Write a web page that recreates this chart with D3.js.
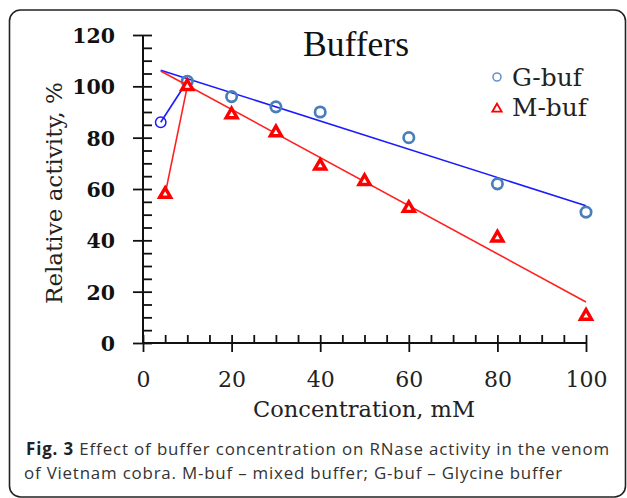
<!DOCTYPE html>
<html>
<head>
<meta charset="utf-8">
<script src="https://cdn.jsdelivr.net/npm/d3@7"></script>
<style>
  html, body { margin: 0; padding: 0; background: #fff; }
  svg { display: block; }
</style>
</head>
<body>
<script>
// ---- data ----
const gConc = [4, 10, 20, 30, 40, 60, 80, 100];
const gValues = [86, 102, 96, 92, 90, 80, 62, 51];
const mConc = [5, 10, 20, 30, 40, 50, 60, 80, 100];
const mValues = [58, 100, 89, 82, 69, 63, 52.5, 41, 10.5];
// linear trend lines (end points, data units)
const gTrendX = [4, 100];
const gTrendY = [106.3, 53.5];
const mTrendX = [4, 100];
const mTrendY = [106, 16];
const xTicks = [0, 20, 40, 60, 80, 100];
const yTicks = [0, 20, 40, 60, 80, 100, 120];
const xMinor = d3.range(0, 101, 5);
const yMinor = d3.range(0, 121, 5);
const legendLabels = ["G-buf", "M-buf"];
const titleText = "Buffers";
const xTitle = "Concentration, mM";
const yTitle = "Relative activity, %";
const captionBold = "Fig. 3";
const captionLine1 = " Effect of buffer concentration on RNase activity in the venom";
const captionLine2 = "of Vietnam cobra. M-buf \u2013 mixed buffer; G-buf \u2013 Glycine buffer";

// ---- layout ----
const W = 627, H = 498;
const svg = d3.select("body").append("svg").attr("width", W).attr("height", H);
svg.append("rect").attr("width", W).attr("height", H).attr("fill", "#fff");

svg.append("rect")
  .attr("x", 9.5).attr("y", 10).attr("width", 616).attr("height", 487)
  .attr("rx", 11).attr("ry", 11)
  .attr("fill", "none").attr("stroke", "#222").attr("stroke-width", 1.6);

// scale a text's font size so it spans the given width
function fit(sel, width) {
  const node = sel.node();
  const fs = parseFloat(sel.attr("font-size"));
  const w = node.getComputedTextLength();
  if (w > 0) sel.attr("font-size", (fs * width / w).toFixed(2));
  return sel;
}
// stretch a text with letter spacing so it spans the given width
function spread(sel, width) {
  const node = sel.node();
  const w = node.getComputedTextLength();
  const n = node.textContent.length;
  if (w > 0 && n > 1) sel.attr("letter-spacing", ((width - w) / n).toFixed(3));
  return sel;
}

const x = d3.scaleLinear().domain([0, 100]).range([143, 586]);
const y = d3.scaleLinear().domain([0, 120]).range([343, 35]);

const serif = "'DejaVu Serif', serif";

// y axis: major ticks outside with labels, all ticks inside
const yAxisG = svg.append("g").attr("transform", `translate(${x(0)},0)`)
  .call(d3.axisLeft(y).tickValues(yTicks).tickSize(10).tickPadding(18).tickFormat(d3.format("d")));
yAxisG.select(".domain").remove();
yAxisG.selectAll("line").attr("stroke", "#111").attr("stroke-width", 1.8);
yAxisG.selectAll("text").attr("font-family", serif).attr("font-weight", "bold")
  .attr("font-size", 20.5).attr("fill", "#111").attr("dy", "0.36em");

const yInG = svg.append("g").attr("transform", `translate(${x(0)},0)`)
  .call(d3.axisRight(y).tickValues(yMinor).tickSize(9).tickFormat(""));
yInG.select(".domain").remove();
yInG.selectAll("line").attr("stroke", "#111").attr("stroke-width", 1.8);

// x axis
const xAxisG = svg.append("g").attr("transform", `translate(0,${y(0)})`)
  .call(d3.axisBottom(x).tickValues(xTicks).tickSize(9).tickFormat(d3.format("d")));
xAxisG.select(".domain").remove();
xAxisG.selectAll("line").attr("stroke", "#111").attr("stroke-width", 1.8);
xAxisG.selectAll("text").attr("font-family", serif).attr("font-size", 22)
  .attr("fill", "#222").attr("dy", null).attr("y", 44);

const xInG = svg.append("g").attr("transform", `translate(0,${y(0)})`)
  .call(d3.axisTop(x).tickValues(xMinor).tickSize(8).tickFormat(""));
xInG.select(".domain").remove();
xInG.selectAll("line").attr("stroke", "#111").attr("stroke-width", 1.8);

// axis lines
svg.append("line").attr("x1", x(0)).attr("x2", x(0)).attr("y1", y(120)).attr("y2", y(0))
  .attr("stroke", "#111").attr("stroke-width", 2);
svg.append("line").attr("x1", x(0)).attr("x2", x(100)).attr("y1", y(0)).attr("y2", y(0))
  .attr("stroke", "#111").attr("stroke-width", 2);

// titles
fit(svg.append("text").attr("x", 303).attr("y", 56)
  .attr("font-family", "'Liberation Serif', 'Times New Roman', serif").attr("font-size", 34)
  .attr("fill", "#111").text(titleText), 106);

fit(svg.append("text").attr("x", 364).attr("y", 417).attr("text-anchor", "middle")
  .attr("font-family", serif).attr("font-size", 21).attr("fill", "#222").text(xTitle), 222);

fit(svg.append("text").attr("transform", "translate(62,193) rotate(-90)").attr("text-anchor", "middle")
  .attr("font-family", serif).attr("font-size", 22).attr("fill", "#222").text(yTitle), 222);

// lines
const line = d3.line().x(d => x(d[0])).y(d => y(d[1]));
const gTrend = d3.zip(gTrendX, gTrendY);
const mTrend = d3.zip(mTrendX, mTrendY);
const gStart = d3.zip(gConc.slice(0, 2), gValues.slice(0, 2));
const mStart = d3.zip(mConc.slice(0, 2), mValues.slice(0, 2));

svg.append("path").attr("d", line(gTrend)).attr("fill", "none").attr("stroke", "#1a1aff").attr("stroke-width", 1.6);
svg.append("path").attr("d", line(gStart)).attr("fill", "none").attr("stroke", "#1a1aff").attr("stroke-width", 1.6);

// G-buf markers
const gPts = d3.zip(gConc, gValues);
svg.append("g").selectAll("circle").data(gPts).join("circle")
  .attr("cx", d => x(d[0])).attr("cy", d => y(d[1])).attr("r", 5.2)
  .attr("fill", "none")
  .attr("stroke", (d, i) => i === 0 ? "#1a1aff" : "#4a7ebb")
  .attr("stroke-width", (d, i) => i === 0 ? 1.5 : 2.7);

svg.append("path").attr("d", line(mTrend)).attr("fill", "none").attr("stroke", "#ff2020").attr("stroke-width", 1.6);
svg.append("path").attr("d", line(mStart)).attr("fill", "none").attr("stroke", "#ff2020").attr("stroke-width", 1.6);

// M-buf markers
const tri = d3.symbol().type(d3.symbolTriangle).size(52);
const mPts = d3.zip(mConc, mValues);
svg.append("g").selectAll("path").data(mPts).join("path")
  .attr("transform", d => `translate(${x(d[0])},${y(d[1])})`)
  .attr("d", tri)
  .attr("fill", "#fff").attr("stroke", "#ff0000").attr("stroke-width", 3.4).attr("stroke-linejoin", "miter");

// legend
svg.append("circle").attr("cx", 497).attr("cy", 77).attr("r", 4)
  .attr("fill", "none").attr("stroke", "#6a95c8").attr("stroke-width", 1.6);
svg.append("path").attr("transform", "translate(497,109)")
  .attr("d", d3.symbol().type(d3.symbolTriangle).size(38))
  .attr("fill", "#fff").attr("stroke", "#ff0000").attr("stroke-width", 1.8);
fit(svg.append("text").attr("x", 512).attr("y", 86).attr("font-family", serif).attr("font-size", 24)
  .attr("fill", "#222").text(legendLabels[0]), 70);
fit(svg.append("text").attr("x", 512).attr("y", 116).attr("font-family", serif).attr("font-size", 24)
  .attr("fill", "#222").text(legendLabels[1]), 75);

// caption
const cap = "'Open Sans', 'Noto Sans', sans-serif";
const capFs = 16.9;
const c1 = svg.append("text").attr("x", 26).attr("y", 455).attr("font-family", cap).attr("font-size", capFs).attr("fill", "#333");
c1.append("tspan").attr("font-weight", "bold").attr("fill", "#222").text(captionBold);
c1.append("tspan").text(captionLine1);
spread(c1, 584);
const c2 = svg.append("text").attr("x", 24).attr("y", 478.5).attr("font-family", cap).attr("font-size", capFs)
  .attr("fill", "#333").text(captionLine2);
spread(c2, 539);
</script>
</body>
</html>
